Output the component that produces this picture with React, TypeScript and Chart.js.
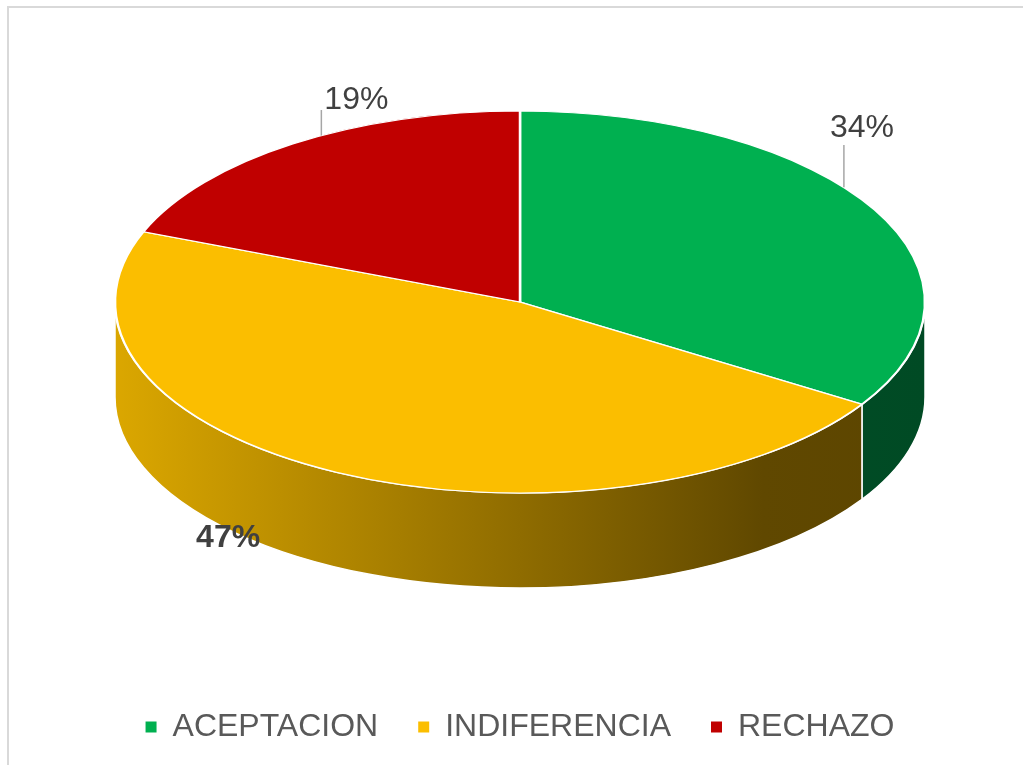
import React, { useEffect, useRef } from "react";
import { Chart, registerables } from "chart.js";

Chart.register(...registerables);

// ---- data ----
const categories: string[] = ["ACEPTACION", "INDIFERENCIA", "RECHAZO"];
const percentages: number[] = [34, 47, 19];
const percentLabels: string[] = ["34%", "47%", "19%"];

// ---- styles ----
const topColors: string[] = ["#00b050", "#fbbe00", "#c00000"];
const sideStops: [number, string][][] = [
  [[0, "#00a04a"], [0.5, "#006a33"], [0.8, "#004d26"], [1, "#004a24"]],
  [[0, "#dba700"], [0.5, "#8f6c00"], [0.8, "#604800"], [1, "#5c4500"]],
  [[0, "#b00000"], [0.5, "#7a0000"], [0.8, "#520000"], [1, "#4e0000"]],
];
const labelOffsets: [number, number][] = [[-13, -82], [-108, 66], [64, -44]];
const labelBold: boolean[] = [false, true, false];
const leaders: ([number, number] | null)[] = [[-18, 17], null, [-35, 10]];

const FONT = "'Liberation Sans', Arial, Helvetica, sans-serif";
const DEPTH = 95;
const TILT = 0.4716;

function geometry(chart: any) {
  const arcs = chart.getDatasetMeta(0).data as any[];
  if (!arcs.length) return null;
  const a0 = arcs[0];
  const rx = a0.outerRadius;
  return { arcs, cx: a0.x, cyBody: a0.y, cy: a0.y - DEPTH / 2, rx, ry: rx * TILT };
}

const pie3d = {
  id: "pie3d",
  beforeDatasetsDraw(chart: any) {
    const g = geometry(chart);
    if (!g) return;
    const { arcs, cx, cy, rx, ry, cyBody } = g;
    const ctx: CanvasRenderingContext2D = chart.ctx;
    ctx.save();
    arcs.forEach((arc: any, i: number) => {
      const s = arc.startAngle;
      const e = arc.endAngle;
      for (const base of [-2 * Math.PI, 0, 2 * Math.PI]) {
        const a1 = Math.max(s, base);
        const a2 = Math.min(e, base + Math.PI);
        if (a2 <= a1) continue;
        ctx.beginPath();
        ctx.ellipse(cx, cy, rx, ry, 0, a1, a2, false);
        ctx.lineTo(cx + rx * Math.cos(a2), cy + DEPTH + ry * Math.sin(a2));
        ctx.ellipse(cx, cy + DEPTH, rx, ry, 0, a2, a1, true);
        ctx.closePath();
        const grad = ctx.createLinearGradient(cx - rx, 0, cx + rx, 0);
        sideStops[i].forEach(([p, c]) => grad.addColorStop(p, c));
        ctx.fillStyle = grad;
        ctx.fill();
        ctx.strokeStyle = "#ffffff";
        ctx.lineWidth = 1.5;
        ctx.stroke();
      }
    });
    ctx.restore();
    ctx.save();
    ctx.translate(0, cy);
    ctx.scale(1, TILT);
    ctx.translate(0, -cyBody);
  },
  afterDatasetsDraw(chart: any) {
    chart.ctx.restore();
  },
  afterDraw(chart: any) {
    const g = geometry(chart);
    if (!g) return;
    const { arcs, cx, cy, rx, ry } = g;
    const ctx: CanvasRenderingContext2D = chart.ctx;
    ctx.save();
    arcs.forEach((arc: any, i: number) => {
      const m = (arc.startAngle + arc.endAngle) / 2;
      const ex = cx + rx * Math.cos(m);
      const ey = cy + ry * Math.sin(m);
      const lx = ex + labelOffsets[i][0];
      const ly = ey + labelOffsets[i][1];
      const ld = leaders[i];
      if (ld) {
        const x = lx + ld[0];
        const t = (x - cx) / rx;
        const yEdge = cy - ry * Math.sqrt(Math.max(0, 1 - t * t));
        ctx.beginPath();
        ctx.moveTo(x, ly + ld[1]);
        ctx.lineTo(x, yEdge);
        ctx.strokeStyle = "#a6a6a6";
        ctx.lineWidth = 1.5;
        ctx.stroke();
      }
      ctx.font = `${labelBold[i] ? "bold " : ""}32px ${FONT}`;
      ctx.fillStyle = "#404040";
      ctx.textAlign = "center";
      ctx.textBaseline = "middle";
      ctx.fillText(percentLabels[i], lx, ly);
    });
    ctx.restore();
  },
};

export default function App() {
  const ref = useRef<HTMLCanvasElement>(null);
  useEffect(() => {
    if (!ref.current) return;
    const chart = new Chart(ref.current, {
      type: "pie",
      data: {
        labels: categories,
        datasets: [
          {
            data: percentages,
            backgroundColor: topColors,
            borderColor: "#ffffff",
            borderWidth: 2.5,
            radius: 405,
            clip: false,
          } as any,
        ],
      },
      options: {
        animation: false,
        responsive: false,
        devicePixelRatio: 1,
        events: [],
        layout: { padding: { top: 28, bottom: 12, left: 17, right: 0 } },
        plugins: {
          tooltip: { enabled: false },
          legend: {
            position: "bottom",
            labels: {
              boxWidth: 11,
              boxHeight: 11,
              padding: 40,
              color: "#595959",
              font: { size: 32, family: FONT },
              generateLabels: (c: any) => {
                const items = (Chart as any).overrides.pie.plugins.legend.labels.generateLabels(c);
                return items.map((it: any) => ({ ...it, lineWidth: 0, strokeStyle: "rgba(0,0,0,0)" }));
              },
            },
          },
        },
      },
      plugins: [pie3d],
    });
    return () => chart.destroy();
  }, []);

  return (
    <div
      style={{
        position: "absolute",
        left: 0,
        top: 0,
        width: 1023,
        height: 765,
        overflow: "hidden",
        background: "#ffffff",
      }}
    >
      <div
        style={{
          position: "absolute",
          left: 7,
          top: 6,
          width: 1100,
          height: 900,
          borderLeft: "2px solid #d9d9d9",
          borderTop: "2px solid #d9d9d9",
        }}
      />
      <canvas
        ref={ref}
        width={1023}
        height={765}
        style={{ position: "absolute", left: 0, top: 0 }}
      />
    </div>
  );
}
